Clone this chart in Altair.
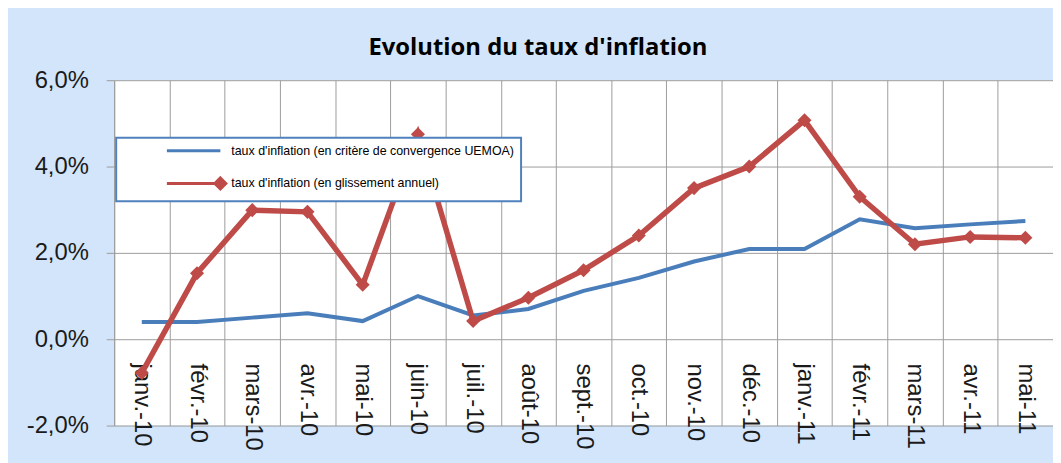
import altair as alt
import pandas as pd

months = ["janv.-10", "févr.-10", "mars-10", "avr.-10", "mai-10", "juin-10", "juil.-10",
          "août-10", "sept.-10", "oct.-10", "nov.-10", "déc.-10", "janv.-11", "févr.-11",
          "mars-11", "avr.-11", "mai-11"]
uemoa = [0.40, 0.40, 0.50, 0.60, 0.42, 1.00, 0.55, 0.70, 1.12, 1.42, 1.80, 2.09, 2.09, 2.78, 2.57, 2.66, 2.74]
glissement = [-0.78, 1.53, 2.99, 2.95, 1.26, 4.75, 0.42, 0.96, 1.60, 2.40, 3.50, 4.00, 5.07, 3.30, 2.20, 2.37, 2.35]
series_names = ["taux d'inflation (en critère de convergence UEMOA)",
                "taux d'inflation (en glissement annuel)"]
y_ticks = [-2, 0, 2, 4, 6]

BLUE = "#4A7EBB"
RED = "#BE4B48"
GRID = "#9C9C9C"
LABEL = "#1a1a1a"

df = pd.DataFrame({"mois": months, "uemoa": uemoa, "glissement": glissement})
leg_df = pd.DataFrame({"serie": series_names})

x_enc = alt.X(
    "mois:N", sort=months,
    scale=alt.Scale(type="band", paddingInner=0, paddingOuter=0),
    axis=alt.Axis(title=None, tickBand="extent", grid=True, gridColor=GRID, ticks=False,
                  domain=False, labelAngle=90, labelAlign="left", labelBaseline="middle",
                  labelFont="Liberation Sans", labelFontSize=24, labelColor=LABEL,
                  labelPadding=24, offset=-87, labelOverlap=False),
)
y_scale = alt.Scale(domain=[-2, 6], nice=False, zero=False)
y_axis = alt.Axis(
    title=None, values=y_ticks, grid=True, gridColor=GRID, tickSize=8, tickColor=GRID,
    domainColor=GRID, labelFont="Liberation Sans", labelFontSize=24, labelColor=LABEL,
    labelPadding=18,
    labelExpr="(datum.value < 0 ? '-' : '') + replace(format(abs(datum.value), '.1f'), '.', ',') + '%'",
)

base = alt.Chart(df)
blue_line = base.mark_line(color=BLUE, strokeWidth=4).encode(
    x=x_enc, y=alt.Y("uemoa:Q", scale=y_scale, axis=y_axis))
red_line = base.mark_line(color=RED, strokeWidth=5.5).encode(
    x=x_enc, y=alt.Y("glissement:Q", scale=y_scale, axis=y_axis))
red_pts = base.mark_point(shape="diamond", filled=True, color=RED, size=200, opacity=1).encode(
    x=x_enc, y=alt.Y("glissement:Q", scale=y_scale, axis=y_axis))

blue_path = "M-9.8,0H0"
red_path = "M-9.8,0H0M0,-1L1,0L0,1L-1,0ZM0,-0.5L0.5,0L0,0.5L-0.5,0ZM-1,0H1M0,-1V1"

leg = alt.Legend(title=None, orient="none", legendX=2, legendY=58, fillColor="white",
                 strokeColor="#4F81BD", padding=6, symbolSize=121, symbolStrokeWidth=3,
                 symbolOffset=92, labelOffset=4, labelFont="Liberation Sans",
                 labelFontSize=12.5, labelColor="#000000", rowPadding=14, symbolOpacity=1,
                 labelLimit=500)

legend_layer = alt.Chart(leg_df).transform_filter("false").mark_point(
    filled=False, strokeWidth=3).encode(
    color=alt.Color("serie:N", scale=alt.Scale(domain=series_names, range=[BLUE, RED]), legend=leg),
    shape=alt.Shape("serie:N", scale=alt.Scale(domain=series_names, range=[blue_path, red_path]), legend=leg),
)

chart = alt.layer(blue_line, red_line, red_pts, legend_layer).properties(
    width=946, height=348,
    title=alt.TitleParams(text="Evolution du taux d'inflation", font="Open Sans", fontSize=24,
                          fontWeight="bold", color="#000000", anchor="middle", dx=-46, offset=8),
    padding={"left": 18, "top": 27, "right": 0, "bottom": 12},
    autosize=alt.AutoSizeParams(type="pad"),
    background="#D3E5FB",
    view=alt.ViewBackground(fill="white", strokeWidth=0),
).configure_legend(strokeWidth=2)

chart.save("out.html", embed_options={"renderer": "svg", "actions": False})
